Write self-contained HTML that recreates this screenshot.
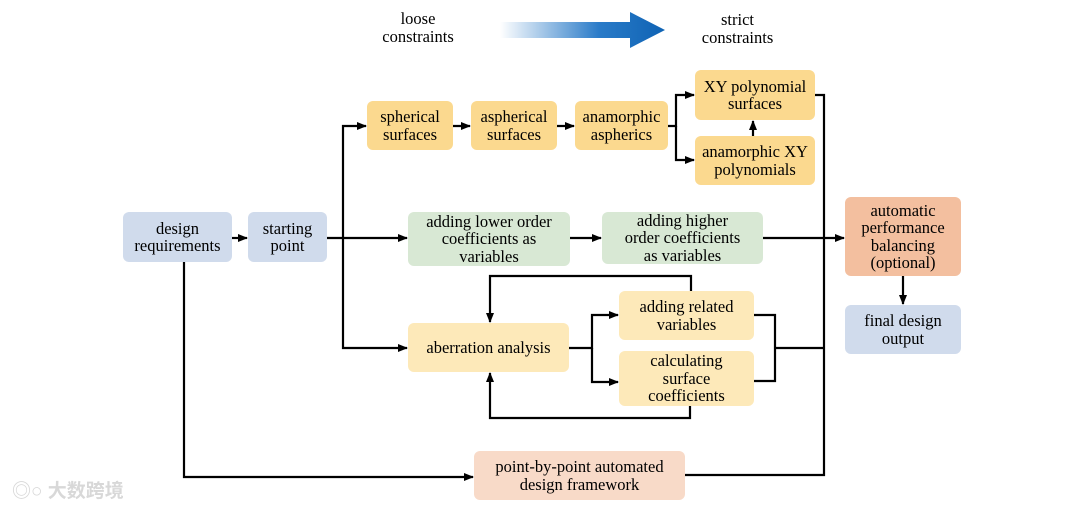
<!DOCTYPE html>
<html><head><meta charset="utf-8"><style>
body{margin:0;background:#fff;width:1080px;height:508px;overflow:hidden;position:relative;font-family:"Liberation Serif",serif;}
.b{position:absolute;border-radius:6px;display:flex;align-items:center;justify-content:center;text-align:center;font-size:16.5px;line-height:17.5px;color:#000;}
.o{background:#fbd98f}.l{background:#fde9b9}.g{background:#d8e8d4}.u{background:#d0dbec}.s{background:#f3bf9f}.p{background:#f8dac8}
.t{position:absolute;font-size:16.5px;line-height:18px;text-align:center;color:#000}
</style></head><body>
<div class="t" style="left:368px;top:10px;width:100px">loose<br>constraints</div>
<div class="t" style="left:685px;top:11px;width:105px">strict<br>constraints</div>
<svg width="1080" height="508" style="position:absolute;left:0;top:0">
<defs><linearGradient id="gr" x1="0" x2="1"><stop offset="0" stop-color="#fff"/><stop offset="0.6" stop-color="#2a7bc8"/><stop offset="1" stop-color="#0f63b4"/></linearGradient>
<marker id="a" markerWidth="10" markerHeight="8" refX="9" refY="4" orient="auto" markerUnits="userSpaceOnUse"><path d="M0,0L10,4L0,8z" fill="#000"/></marker></defs>
<path d="M500,22H630V12L665,30L630,48V38H500z" fill="url(#gr)"/>
<g stroke="#000" stroke-width="2.2" fill="none">
<line x1="232" y1="238" x2="247" y2="238" marker-end="url(#a)"/>
<line x1="327" y1="238" x2="407" y2="238" marker-end="url(#a)"/>
<polyline points="343,238 343,126 366,126" marker-end="url(#a)"/>
<polyline points="343,238 343,348 407,348" marker-end="url(#a)"/>
<line x1="453" y1="126" x2="470" y2="126" marker-end="url(#a)"/>
<line x1="557" y1="126" x2="574" y2="126" marker-end="url(#a)"/>
<polyline points="668,126 676,126 676,95 694,95" marker-end="url(#a)"/>
<polyline points="676,126 676,160 694,160" marker-end="url(#a)"/>
<line x1="753" y1="136" x2="753" y2="121" marker-end="url(#a)"/>
<polyline points="815,95 824,95 824,475 685,475"/>
<line x1="570" y1="238" x2="601" y2="238" marker-end="url(#a)"/>
<line x1="763" y1="238" x2="844" y2="238" marker-end="url(#a)"/>
<line x1="903" y1="276" x2="903" y2="304" marker-end="url(#a)"/>
<polyline points="569,348 592,348 592,315 618,315" marker-end="url(#a)"/>
<polyline points="592,348 592,382 618,382" marker-end="url(#a)"/>
<polyline points="754,315 775,315 775,381 754,381"/>
<line x1="775" y1="348" x2="824" y2="348"/>
<polyline points="691,291 691,276 490,276 490,322" marker-end="url(#a)"/>
<polyline points="690,406 690,418 490,418 490,373" marker-end="url(#a)"/>
<polyline points="184,262 184,477 473,477" marker-end="url(#a)"/>
</g></svg>
<div class="b u" style="left:123px;top:212px;width:109px;height:50px">design<br>requirements</div>
<div class="b u" style="left:248px;top:212px;width:79px;height:50px">starting<br>point</div>
<div class="b o" style="left:367px;top:101px;width:86px;height:49px">spherical<br>surfaces</div>
<div class="b o" style="left:471px;top:101px;width:86px;height:49px">aspherical<br>surfaces</div>
<div class="b o" style="left:575px;top:101px;width:93px;height:49px">anamorphic<br>aspherics</div>
<div class="b o" style="left:695px;top:70px;width:120px;height:50px">XY polynomial<br>surfaces</div>
<div class="b o" style="left:695px;top:136px;width:120px;height:49px">anamorphic XY<br>polynomials</div>
<div class="b g" style="left:408px;top:212px;width:162px;height:54px">adding lower order<br>coefficients as<br>variables</div>
<div class="b g" style="left:602px;top:212px;width:161px;height:52px">adding higher<br>order coefficients<br>as variables</div>
<div class="b s" style="left:845px;top:197px;width:116px;height:79px">automatic<br>performance<br>balancing<br>(optional)</div>
<div class="b u" style="left:845px;top:305px;width:116px;height:49px">final design<br>output</div>
<div class="b l" style="left:408px;top:323px;width:161px;height:49px">aberration analysis</div>
<div class="b l" style="left:619px;top:291px;width:135px;height:49px">adding related<br>variables</div>
<div class="b l" style="left:619px;top:351px;width:135px;height:55px">calculating<br>surface<br>coefficients</div>
<div class="b p" style="left:474px;top:451px;width:211px;height:49px">point-by-point automated<br>design framework</div>
<div style="position:absolute;left:12px;top:476px;font-family:'Liberation Sans','Noto Sans CJK SC',sans-serif;font-size:19px;color:#d8d8d8;font-weight:bold">◎○ 大数跨境</div>
</body></html>
